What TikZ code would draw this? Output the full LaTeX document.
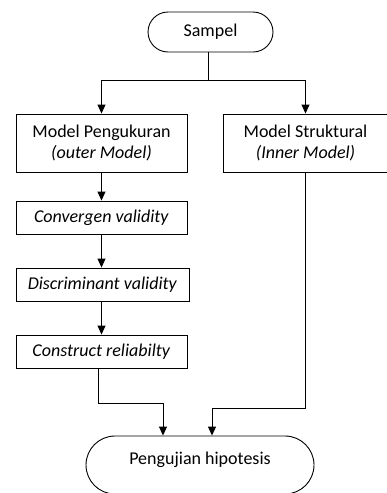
\documentclass[tikz,border=0pt]{standalone}
\usepackage{fontspec}
\setmainfont{Carlito}
\usetikzlibrary{arrows.meta,calc}
\tikzset{
  txt/.style={font=\fontsize{18}{21}\selectfont},
  box/.style={draw, line width=0.9pt, rectangle, inner sep=0pt, align=center, txt},
  term/.style={draw, line width=0.9pt, rounded corners=20pt, inner sep=0pt, align=center, txt},
  conn/.style={line width=0.9pt},
  arr/.style={line width=0.9pt, -{Triangle[width=8pt,length=9pt]}}
}
\begin{document}
\begin{tikzpicture}[x=1pt,y=-1pt]
\useasboundingbox (0,0) rectangle (386,493);
\node[term, minimum width=125pt, minimum height=40pt] (sampel) at (210.5,32) {Sampel};
\node[box, minimum width=171pt, minimum height=58pt] (mp) at (101.5,143) {Model Pengukuran\\\textit{(outer Model)}};
\node[box, minimum width=165pt, minimum height=58pt] (ms) at (305.5,143) {Model Struktural\\\textit{(Inner Model)}};
\node[box, minimum width=171pt, minimum height=33pt] (cv) at (101.5,217.5) {\textit{Convergen validity}};
\node[box, minimum width=173pt, minimum height=33pt] (dv) at (102.5,284.5) {\textit{Discriminant validity}};
\node[box, minimum width=171pt, minimum height=33pt] (cr) at (101.5,351.5) {\textit{Construct reliabilty}};
\node[draw, line width=0.9pt, rounded corners=29pt, inner sep=0pt, minimum width=228pt, minimum height=58pt] (pu) at (200,465) {};
\node[inner sep=0pt, txt] (putext) at (200,460) {Pengujian hipotesis};
\coordinate (j) at (208,80);
\draw[conn] (208,52) -- (j);
\draw[arr] (j) -| (mp.north);
\draw[arr] (j) -| (ms.north);
\draw[arr] (mp.south) -- (cv.north);
\draw[arr] (cv.south) -- (dv.north -| cv.south);
\draw[arr] (dv.south -| cv.south) -- (cr.north);
\coordinate (c1) at (163,403);
\coordinate (c2) at (212,408);
\draw[arr] ([xshift=-3.5pt]cr.south) |- (c1) -- (c1 |- pu.north);
\draw[arr] (ms.south) |- (c2) -- (c2 |- pu.north);
\end{tikzpicture}
\end{document}
